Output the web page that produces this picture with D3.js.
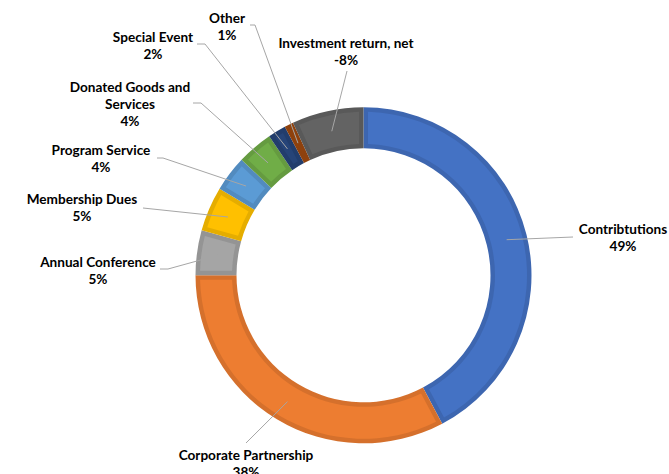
<!DOCTYPE html>
<html lang="en">
<head>
<script src="https://cdnjs.cloudflare.com/ajax/libs/d3/7.8.5/d3.min.js"></script>
<style>
  html, body { margin: 0; padding: 0; background: #fff; }
</style>
</head>
<body>
<script>
// data (percent of net total, Excel style)
var categories = ["Contribtutions", "Corporate Partnership", "Annual Conference", "Membership Dues",
                  "Program Service", "Donated Goods and\nServices", "Special Event", "Other", "Investment return, net"]
var values = [49, 38, 5, 5, 4, 4, 2, 1, -8]
var colors = ["#4472C4", "#ED7D31", "#A5A5A5", "#FFC000", "#5B9BD5", "#70AD47", "#264478", "#9E480E", "#636363"]

// label placement (first line centre) and leader line points near the label
var labelLayout = [
  {x: 623, y: 229, pts: [[573, 237]]},
  {x: 246, y: 455, pts: [[246, 443]]},
  {x: 98,  y: 262, pts: [[160, 269], [168, 269]]},
  {x: 82,  y: 199, pts: [[143, 208]]},
  {x: 101, y: 150, pts: [[157, 158], [163, 158]]},
  {x: 130, y: 87,  pts: [[193, 103], [201, 103]]},
  {x: 153, y: 37,  pts: [[197, 44], [205, 44]]},
  {x: 227, y: 18,  pts: [[250, 25], [255, 25]]},
  {x: 346, y: 43,  pts: [[347, 71]]}
]

var width = 669, height = 474
var cx = 363.5, cy = 275.3
var outerR = 168, innerR = 127
var lineH = 17

var total = d3.sum(values)
var items = categories.map((c, i) => ({name: c, value: values[i], color: colors[i], layout: labelLayout[i]}))

var pie = d3.pie().sort(null).value(d => Math.abs(d.value))
var arcs = pie(items)

var svg = d3.select("body").append("svg")
    .attr("width", width)
    .attr("height", height)
    .attr("font-family", "Lato, 'Open Sans', sans-serif")

var g = svg.append("g").attr("transform", `translate(${cx},${cy})`)

var arcOuter = d3.arc().innerRadius(innerR).outerRadius(outerR)
var inset = 4.5
var arcInner = d3.arc().innerRadius(innerR + inset).outerRadius(outerR - inset)
    .padRadius(outerR).padAngle(2 * inset / outerR)
var arcMid = d3.arc().innerRadius(innerR).outerRadius(outerR)

// slice border (darker shade) then lighter face
g.selectAll(".slice-border")
  .data(arcs)
  .join("path")
  .attr("class", "slice-border")
  .attr("d", arcOuter)
  .attr("fill", d => d3.color(d.data.color).darker(0.3))

g.selectAll(".slice")
  .data(arcs)
  .join("path")
  .attr("class", "slice")
  .attr("d", arcInner)
  .attr("fill", d => d.data.color)

// leader lines
var line = d3.line()
svg.append("g")
  .attr("fill", "none")
  .attr("stroke", "#A6A6A6")
  .attr("stroke-width", 1)
  .selectAll("path")
  .data(arcs)
  .join("path")
  .attr("d", d => {
      var c = arcMid.centroid(d)
      return line(d.data.layout.pts.concat([[c[0] + cx, c[1] + cy]]))
  })

// labels
var labels = svg.append("g")
  .attr("font-size", 13.6)
  .attr("font-weight", "bold")
  .attr("fill", "#000")
  .attr("text-anchor", "middle")
  .selectAll("text")
  .data(arcs)
  .join("text")
  .attr("x", d => d.data.layout.x)
  .attr("y", d => d.data.layout.y + 4.5)

labels.each(function(d) {
  var lines = d.data.name.split("\n").concat([Math.round(d.data.value / total * 100) + "%"])
  d3.select(this).selectAll("tspan")
    .data(lines)
    .join("tspan")
    .attr("x", d.data.layout.x)
    .attr("dy", (t, i) => i === 0 ? 0 : lineH)
    .text(t => t)
})
</script>
</body>
</html>
